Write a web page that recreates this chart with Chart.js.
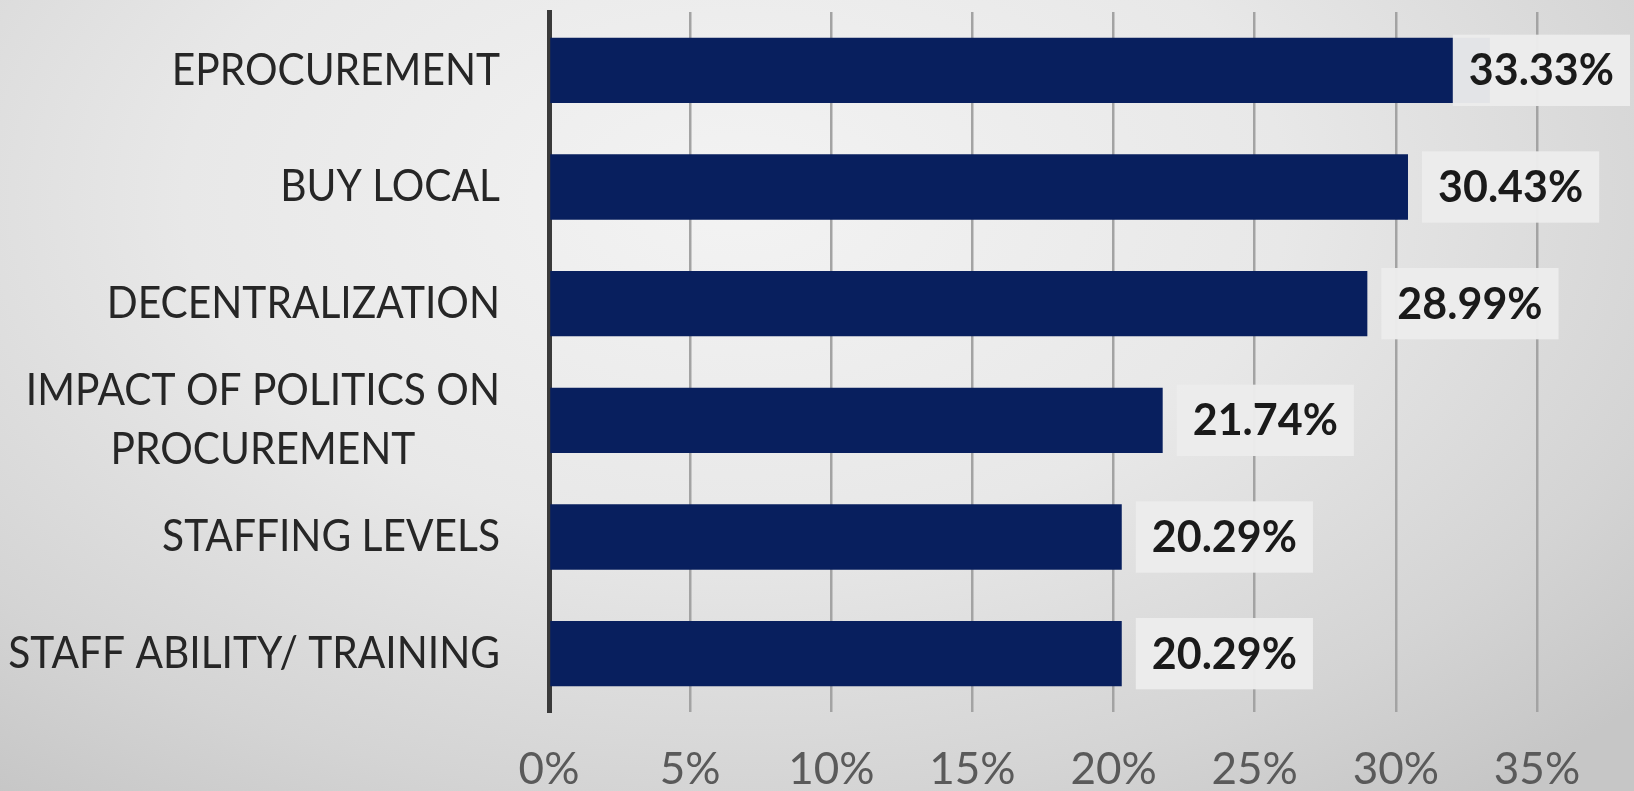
<!DOCTYPE html>
<html>
<head>
<meta charset="utf-8">
<script src="https://cdn.jsdelivr.net/npm/chart.js@4.4.1/dist/chart.umd.min.js"></script>
<style>
    html, body {
        margin: 0;
        padding: 0;
        width: 1634px;
        height: 791px;
        overflow: hidden;
    }
    body {
        background: radial-gradient(ellipse 75% 95% at 45% 25%, #f3f3f3 0%, #e8e8e8 45%, #d4d4d4 80%, #c6c6c6 100%);
    }
    #wrap {
        position: relative;
        width: 1634px;
        height: 791px;
    }
</style>
</head>
<body>
<div id="wrap"><canvas id="chart"></canvas></div>
<script>
const categories = [
    'EPROCUREMENT',
    'BUY LOCAL',
    'DECENTRALIZATION',
    ['IMPACT OF POLITICS ON', 'PROCUREMENT'],
    'STAFFING LEVELS',
    'STAFF ABILITY/ TRAINING'
];
const shares = [33.33, 30.43, 28.99, 21.74, 20.29, 20.29];
const tickValues = [0, 5, 10, 15, 20, 25, 30, 35];

const FONT = "Lato, 'Open Sans', sans-serif";

// category labels: block right-aligned at the axis, lines centered inside the block
// (Lato is wider than the original font, so squeeze it a little)
const categoryLabels = {
    id: 'categoryLabels',
    afterDraw(chart) {
        const ctx = chart.ctx;
        const yScale = chart.scales.y;
        const right = chart.chartArea.left - 49;
        const sx = 0.925;
        ctx.save();
        ctx.font = '44px ' + FONT;
        ctx.fillStyle = '#262626';
        ctx.textBaseline = 'middle';
        ctx.textAlign = 'center';
        ctx.scale(sx, 1);
        categories.forEach((cat, i) => {
            const lines = Array.isArray(cat) ? cat : [cat];
            let maxW = 0;
            lines.forEach(l => { maxW = Math.max(maxW, ctx.measureText(l).width * sx); });
            const cx = (right - maxW / 2) / sx;
            const lh = 59;
            const y0 = yScale.getPixelForTick(i) - (lines.length - 1) * lh / 2;
            lines.forEach((l, j) => ctx.fillText(l, cx, y0 + j * lh));
        });
        ctx.restore();
    }
};

// value labels with a light box behind them
const valueLabels = {
    id: 'valueLabels',
    afterDatasetsDraw(chart) {
        const ctx = chart.ctx;
        const meta = chart.getDatasetMeta(0);
        ctx.save();
        ctx.font = 'bold 43px ' + FONT;
        ctx.textBaseline = 'middle';
        meta.data.forEach((bar, i) => {
            const txt = shares[i].toFixed(2) + '%';
            const w = ctx.measureText(txt).width;
            let tx = bar.x + 30;
            if (tx + w > chart.width - 20) tx = chart.width - 20 - w;
            const h = bar.height + 6;
            ctx.fillStyle = 'rgba(236, 236, 236, 0.96)';
            ctx.fillRect(tx - 16, bar.y - h / 2, w + 32, h);
            ctx.fillStyle = '#1a1a1a';
            ctx.fillText(txt, tx, bar.y + 1);
        });
        ctx.restore();
    }
};

new Chart(document.getElementById('chart'), {
    type: 'bar',
    data: {
        labels: categories,
        datasets: [{
            data: shares,
            backgroundColor: '#081f5e',
            borderWidth: 0,
            categoryPercentage: 1,
            barPercentage: 0.56
        }]
    },
    options: {
        indexAxis: 'y',
        responsive: true,
        maintainAspectRatio: false,
        animation: false,
        layout: {
            padding: { top: 12, right: 97, left: 0, bottom: 0 }
        },
        scales: {
            x: {
                min: 0,
                max: 35,
                afterBuildTicks(scale) {
                    scale.ticks = tickValues.map(v => ({ value: v }));
                },
                afterFit(scale) {
                    scale.height = 79;
                },
                grid: {
                    color: '#a3a3a3',
                    lineWidth: 2.5,
                    drawTicks: false
                },
                border: { display: false },
                ticks: {
                    padding: 31,
                    color: '#5a5a5a',
                    font: { family: FONT, size: 44 },
                    callback: v => v + '%'
                }
            },
            y: {
                afterFit(scale) {
                    scale.width = 549;
                },
                grid: { display: false },
                border: {
                    display: true,
                    color: '#3a3a3a',
                    width: 5
                },
                ticks: { display: false }
            }
        },
        plugins: {
            legend: { display: false },
            tooltip: { enabled: false }
        }
    },
    plugins: [categoryLabels, valueLabels]
});
</script>
</body>
</html>
